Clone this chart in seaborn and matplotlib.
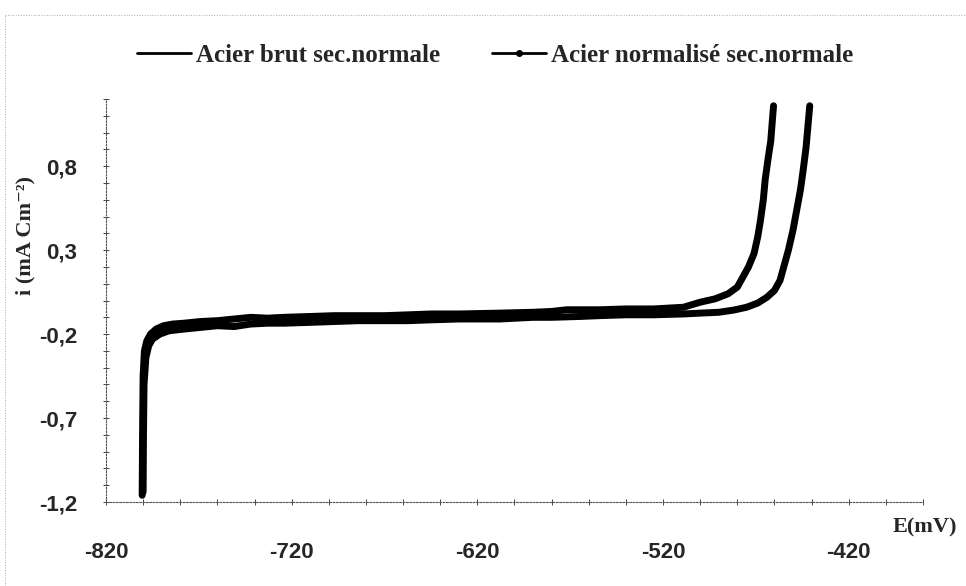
import matplotlib
matplotlib.use("Agg")
import matplotlib.pyplot as plt
import pandas as pd
import seaborn as sns
from matplotlib.lines import Line2D
from matplotlib.ticker import MultipleLocator, FuncFormatter

# Polarisation curves: potential E (mV) vs current density i (mA/cm2)
series_names = ["Acier brut sec.normale", "Acier normalisé sec.normale"]

E_brut = [-800.5, -800.3, -800.0, -799.3, -798.0, -796.0, -793.0, -789.0, -784.0,
          -778.0, -769.0, -760.0, -751.0, -742.0, -733.0, -724.0, -710.0, -697.0,
          -684.0, -670.0, -657.0, -645.0, -630.0, -608.0, -590.0, -580.0, -572.0,
          -554.0, -540.0, -525.0, -509.0, -500.0, -492.0, -485.0, -480.0, -477.0,
          -474.0, -471.0, -469.0, -467.5, -466.0, -465.0, -463.5, -462.0, -460.5]
i_brut = [-1.16, -0.80, -0.45, -0.30, -0.24, -0.20, -0.17, -0.15, -0.14,
          -0.135, -0.125, -0.12, -0.11, -0.10, -0.105, -0.10, -0.095, -0.09,
          -0.09, -0.09, -0.085, -0.08, -0.08, -0.075, -0.07, -0.065, -0.055,
          -0.055, -0.05, -0.05, -0.04, -0.01, 0.01, 0.04, 0.08, 0.14,
          0.20, 0.28, 0.38, 0.48, 0.60, 0.72, 0.84, 0.95, 1.16]

E_norm = [-800.0, -799.8, -799.5, -798.5, -797.0, -795.0, -791.0, -786.0, -778.0,
          -769.0, -760.0, -751.0, -742.0, -733.0, -724.0, -710.0, -697.0, -684.0,
          -670.0, -657.0, -645.0, -630.0, -608.0, -590.0, -580.0, -565.0, -554.0,
          -540.0, -525.0, -509.0, -500.0, -490.0, -482.0, -475.0, -469.0, -464.0,
          -460.0, -457.0, -455.0, -452.5, -450.0, -448.0, -446.0, -444.5, -443.0,
          -441.0]
i_norm = [-1.14, -0.80, -0.50, -0.34, -0.27, -0.23, -0.20, -0.18, -0.17,
          -0.16, -0.15, -0.155, -0.14, -0.135, -0.135, -0.13, -0.125, -0.12,
          -0.12, -0.12, -0.115, -0.11, -0.11, -0.10, -0.10, -0.095, -0.09,
          -0.085, -0.085, -0.08, -0.075, -0.07, -0.057, -0.04, -0.015, 0.02,
          0.06, 0.12, 0.20, 0.30, 0.42, 0.54, 0.66, 0.78, 0.91,
          1.16]

x_ticks = [-820, -720, -620, -520, -420]
y_ticks = [-1.2, -0.7, -0.2, 0.3, 0.8]

sns.set_theme(style="white")
plt.rcParams["font.family"] = ["Liberation Sans", "DejaVu Sans"]
serif = ["Liberation Serif", "DejaVu Serif"]

df = pd.concat([
    pd.DataFrame({"E": E_brut, "i": i_brut, "serie": series_names[0]}),
    pd.DataFrame({"E": E_norm, "i": i_norm, "serie": series_names[1]}),
], ignore_index=True)

fig = plt.figure(figsize=(9.66, 5.86), dpi=100)
ax = fig.add_axes([0.1097, 0.1433, 0.8458, 0.6877])

sns.lineplot(data=df, x="E", y="i", hue="serie", palette=["black", "black"],
             sort=False, estimator=None, linewidth=5, legend=False, ax=ax)

ax.set_xlim(-820, -380)
ax.set_ylim(-1.2, 1.2)
ax.set_xticks(x_ticks)
ax.set_yticks(y_ticks)
ax.xaxis.set_minor_locator(MultipleLocator(20))
ax.yaxis.set_minor_locator(MultipleLocator(0.1))
ax.xaxis.set_major_formatter(FuncFormatter(lambda v, p: f"{int(round(v))}"))
ax.yaxis.set_major_formatter(FuncFormatter(lambda v, p: f"{v:.1f}".replace(".", ",")))

for side in ["top", "right"]:
    ax.spines[side].set_visible(False)
for side in ["left", "bottom"]:
    ax.spines[side].set_linestyle((0, (1.5, 1.5)))
    ax.spines[side].set_linewidth(0.8)
    ax.spines[side].set_color("#555555")

ax.tick_params(which="both", direction="inout", color="#444444", width=0.7,
               bottom=True, left=True)
ax.tick_params(which="major", length=5)
ax.tick_params(which="minor", length=4)
ax.tick_params(axis="x", which="major", pad=26, labelsize=16)
ax.tick_params(axis="y", which="major", pad=18, labelsize=16)
for lbl in ax.get_xticklabels() + ax.get_yticklabels():
    lbl.set_fontweight("bold")

ax.set_xlabel("E(mV)", family=serif, fontweight="bold", fontsize=16, va="center")
ax.xaxis.set_label_coords(1.002, -0.062)
ax.set_ylabel("i (mA Cm⁻²)", family=serif, fontweight="bold", fontsize=16, va="center")
ax.yaxis.set_label_coords(-0.099, 0.6625)

handles = [
    Line2D([], [], color="black", lw=2),
    Line2D([], [], color="black", lw=2, marker="o", markersize=4),
]
fig.legend(handles, series_names, loc="center", bbox_to_anchor=(0.5124, 0.906),
           ncol=2, frameon=False, handlelength=2.15, handletextpad=0.2,
           columnspacing=2.1, prop={"family": serif, "weight": "bold", "size": 18})

# faint dotted outline of the chart area
fig.add_artist(Line2D([0.005, 1.0], [1 - 15 / 586] * 2, transform=fig.transFigure,
                      ls=":", color="#aaaaaa", lw=0.7))
fig.add_artist(Line2D([5 / 966] * 2, [0.0, 1 - 15 / 586], transform=fig.transFigure,
                      ls=":", color="#aaaaaa", lw=0.7))

fig.savefig("out.png", dpi=100, facecolor="white")
